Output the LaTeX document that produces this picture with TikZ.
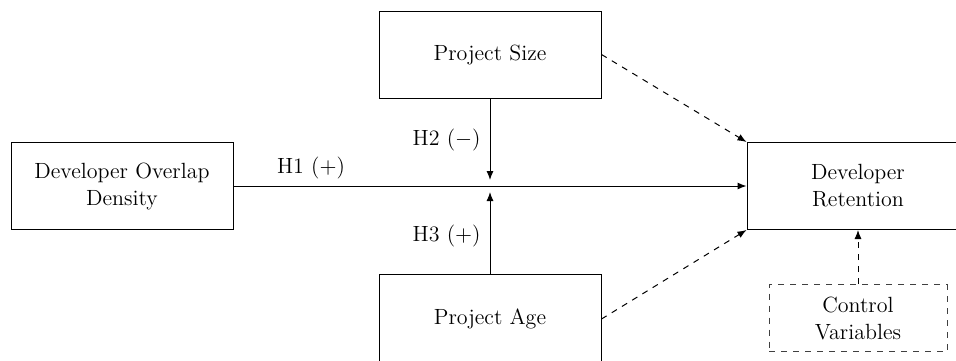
\documentclass[tikz,border=0pt]{standalone}
\usetikzlibrary{arrows.meta}
\begin{document}
\begin{tikzpicture}[x=0.5pt,y=-0.5pt]
    \tikzstyle{block}=[draw, line width=0.5pt, minimum width=111pt, minimum height=43.5pt, align=center, inner sep=2pt, font=\fontsize{11}{13.5}\selectfont]
    \tikzstyle{ctrlbox}=[block, dashed, draw=black!75, minimum width=89pt, minimum height=33.5pt]
    \tikzstyle{lbl}=[font=\fontsize{11}{13.5}\selectfont, inner sep=1pt]
    \tikzstyle{link}=[line width=0.5pt, -{Latex[length=4.5pt,width=3.5pt]}]
    \clip (0,0) rectangle (956,360);
    \node[block] (dens) at (122,186) {Developer Overlap\\Density};
    \node[block] (size) at (490,54.5) {Project Size};
    \node[block, minimum height=45pt] (age) at (490,319) {Project Age};
    \node[block] (ret) at (858,186) {Developer\\Retention};
    \node[ctrlbox] (ctrl) at (858,318) {Control\\Variables};
    \coordinate (up) at (490,180);
    \coordinate (dn) at (490,192);
    \node[lbl] (h1) at (311,168) {H1 ($+$)};
    \node[lbl, anchor=east] (h2) at (483,140) {H2 ($-$)};
    \node[lbl, anchor=east] (h3) at (483,236) {H3 ($+$)};
    \draw[link] (dens) -- (ret);
    \draw[link] (size) -- (up);
    \draw[link] (age) -- (dn);
    \draw[link, dashed] (size.east) -- (ret.north west);
    \draw[link, dashed] (age.east) -- (ret.south west);
    \draw[link, dashed] (ctrl) -- (ret);
\end{tikzpicture}
\end{document}
